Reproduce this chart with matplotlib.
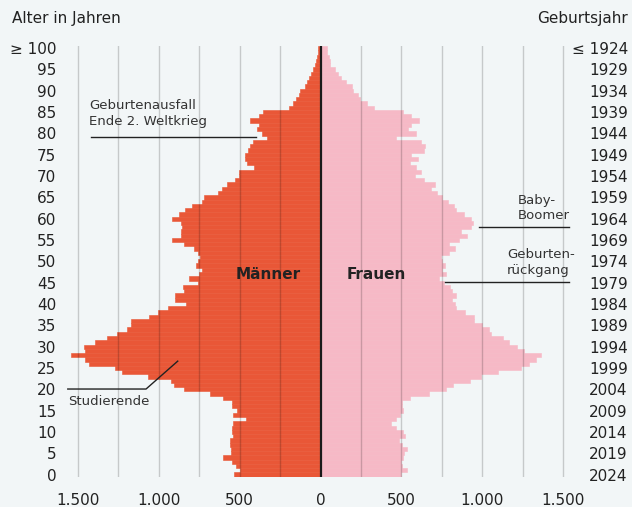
import matplotlib
matplotlib.use("Agg")
import matplotlib.pyplot as plt
import numpy as np

# population per age (0 .. 100+)
ages = np.arange(0, 101)

men = [533, 495, 525, 548, 605, 556, 556, 558, 560, 542,
       548, 548, 542, 463, 540, 515, 545, 546, 605, 685,
       845, 903, 923, 1065, 1230, 1269, 1432, 1456, 1545, 1456,
       1463, 1397, 1320, 1258, 1199, 1175, 1174, 1059, 1007, 941,
       832, 900, 897, 845, 848, 755, 816, 750, 730, 772,
       755, 745, 758, 785, 845, 918, 865, 860, 857, 862,
       920, 878, 838, 797, 730, 722, 632, 611, 580, 529,
       501, 501, 411, 456, 466, 466, 446, 436, 415, 333,
       364, 394, 378, 436, 378, 354, 196, 170, 150, 130,
       125, 95, 83, 72, 58, 48, 31, 25, 20, 17,
       15]

women = [500, 535, 504, 500, 508, 514, 535, 504, 483, 521,
         508, 467, 438, 469, 494, 508, 504, 504, 556, 669,
         779, 820, 924, 990, 1099, 1238, 1289, 1330, 1362, 1258,
         1217, 1165, 1128, 1052, 1041, 1000, 948, 948, 893, 835,
         831, 814, 839, 814, 804, 762, 731, 779, 752, 773,
         752, 748, 793, 831, 793, 859, 907, 872, 928, 942,
         928, 886, 839, 824, 789, 752, 721, 686, 711, 638,
         587, 624, 591, 552, 603, 562, 638, 649, 624, 467,
         591, 541, 562, 607, 562, 508, 328, 287, 242, 231,
         198, 194, 157, 126, 107, 87, 60, 60, 54, 40,
         39]

age_ticks = list(range(0, 101, 5))
age_labels = [str(a) if a < 100 else "\u2265 100" for a in age_ticks]
year_labels = [str(2024 - a) if a < 100 else "\u2264 1924" for a in age_ticks]
x_ticks = [-1500, -1000, -500, 0, 500, 1000, 1500]
x_labels = ["1.500", "1.000", "500", "0", "500", "1.000", "1.500"]

BG = "#f2f6f7"
MEN_COLOR = "#e95737"
WOMEN_COLOR = "#f6b9c6"

W, H = 632, 507
fig = plt.figure(figsize=(W / 100, H / 100), dpi=100, facecolor=BG)
ax = fig.add_axes([61.8 / W, 30.3 / H, 517.4 / W, 430.7 / H])
ax.set_facecolor(BG)

# the two halves of the pyramid
ax.barh(ages, -np.array(men), height=1.0, color=MEN_COLOR,
        edgecolor=MEN_COLOR, linewidth=0.4, zorder=2)
ax.barh(ages, women, height=1.0, color=WOMEN_COLOR,
        edgecolor=WOMEN_COLOR, linewidth=0.4, zorder=2)

# vertical grid every 250 drawn over the bars
for gx in range(-1500, 1501, 250):
    if gx == 0:
        continue
    ax.axvline(gx, color="black", alpha=0.18, lw=1.0, zorder=3)
ax.axvline(0, color="#1a1a1a", lw=1.6, zorder=4)

ax.set_xlim(-1600, 1600)
ax.set_ylim(-0.5, 100.5)
for s in ax.spines.values():
    s.set_visible(False)

ax.set_xticks(x_ticks)
ax.set_xticklabels(x_labels)
ax.set_yticks(age_ticks)
ax.set_yticklabels(age_labels)
ax.tick_params(axis="both", length=0, labelsize=11, colors="#222222")
ax.tick_params(axis="x", pad=11.5)
ax.tick_params(axis="y", pad=4)

ax2 = ax.twinx()
ax2.set_ylim(ax.get_ylim())
ax2.set_yticks(age_ticks)
ax2.set_yticklabels(year_labels, ha="right")
ax2.tick_params(axis="y", length=0, labelsize=11, colors="#222222", pad=35)
for s in ax2.spines.values():
    s.set_visible(False)

# headers
fig.text(12 / W, 1 - 18 / H, "Alter in Jahren", fontsize=11, color="#222222",
         ha="left", va="center")
fig.text(628 / W, 1 - 18 / H, "Geburtsjahr", fontsize=11, color="#222222",
         ha="right", va="center")

# sex labels
ax.text(-325, 46.8, "Männer", fontsize=11, fontweight="bold", color="#222222",
        ha="center", va="center", zorder=5)
ax.text(343, 46.8, "Frauen", fontsize=11, fontweight="bold", color="#222222",
        ha="center", va="center", zorder=5)

# annotations
ax.text(-1430, 81.3, "Geburtenausfall\nEnde 2. Weltkrieg", fontsize=9.5,
        color="#333333", ha="left", va="bottom", linespacing=1.25, zorder=5)
ax.plot([-1419, -399], [79.1, 79.1], color="#222222", lw=1, zorder=5)

ax.text(-1563, 18.6, "Studierende", fontsize=9.5, color="#333333",
        ha="left", va="top", zorder=5)
ax.plot([-1563, -1079, -883], [20.06, 20.06, 26.6], color="#222222", lw=1, zorder=5)

ax.text(1223, 59.2, "Baby-\nBoomer", fontsize=9.5, color="#333333",
        ha="left", va="bottom", linespacing=1.25, zorder=5)
ax.plot([982, 1535], [57.98, 57.98], color="#222222", lw=1, zorder=5)

ax.text(1152, 46.4, "Geburten-\nrückgang", fontsize=9.5, color="#333333",
        ha="left", va="bottom", linespacing=1.25, zorder=5)
ax.plot([770, 1535], [45.2, 45.2], color="#222222", lw=1, zorder=5)

fig.savefig("out.png", dpi=100, facecolor=BG)
